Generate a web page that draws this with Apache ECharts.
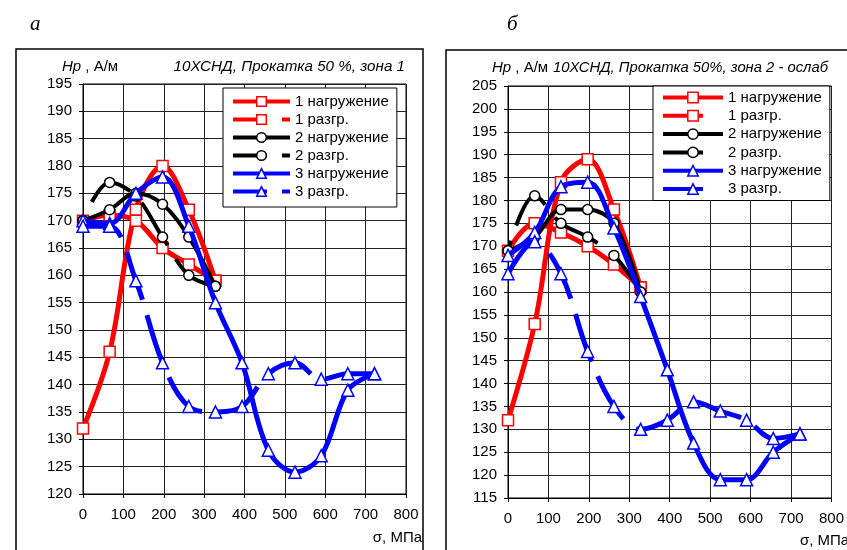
<!DOCTYPE html>
<html>
<head>
<meta charset="utf-8">
<title>Hp(σ) 10ХСНД</title>
<script src="https://cdn.jsdelivr.net/npm/echarts@6/dist/echarts.min.js"></script>
<style>
  html, body { margin: 0; padding: 0; background: #fff; }
  #chart { width: 847px; height: 550px; }
</style>
</head>
<body>
<div id="chart"></div>
<script>
// Stress levels, MPa (shared by every series)
const stress = [0, 66, 131, 197, 262, 328, 394, 459, 525, 590, 656, 722];

// Panel "а" — zone 1, Hp in A/m (values listed in order of increasing stress)
const aLoad1   = [132, 146, 172, 180, 172, 159];
const aUnload1 = [170, 171, 170, 165, 162, 159];
const aLoad2   = [170, 172, 175, 173, 167, 158];
const aUnload2 = [170, 177, 174.5, 167, 160, 158];
const aLoad3   = [170, 169.5, 175, 178, 169, 155, 144, 128, 124, 127, 139, 142];
const aUnload3 = [169, 169, 159, 144, 136, 135, 136, 142, 144, 141, 142, 142];

// Panel "б" — zone 2 (weakened)
const bLoad1   = [132, 153, 184, 189, 178, 161];
const bUnload1 = [169, 175, 173, 170, 166, 161];
const bLoad2   = [169, 172, 178, 178, 175, 160];
const bUnload2 = [169, 181, 175, 172, 168, 160];
const bLoad3   = [168, 173, 183, 184, 174, 159, 143, 127, 119, 119, 125, 129];
const bUnload3 = [164, 171, 164, 147, 135, 130, 132, 136, 134, 132, 128, 129];

// Axis ticks
const xTicks = { min: 0, max: 800, step: 100 };
const aTicks = { min: 120, max: 195, step: 5 };
const bTicks = { min: 115, max: 205, step: 5 };

const seriesNames = ['1 нагружение', '1 разгр.', '2 нагружение', '2 разгр.', '3 нагружение', '3 разгр.'];

const FONT = 'Liberation Sans, Arial, sans-serif';
const RED = '#ff0000', BLACK = '#000000', BLUE = '#0000ff';
const colors  = [RED, RED, BLACK, BLACK, BLUE, BLUE];
const symbols = ['rect', 'rect', 'circle', 'circle', 'triangle', 'triangle'];
const symSize = [11, 11, 10, 10, 12, 12];
const widths  = [5, 5, 4, 4, 5, 5];
const UNLOAD_DASH = [50, 16];

// loading curves run with stress, unloading curves run back from the top stress
function loadPairs(vals) { return vals.map((v, i) => [stress[i], v]); }
function unloadPairs(vals) { return vals.map((v, i) => [stress[i], v]).reverse(); }

function makeSeries(k, data, gi, dashed) {
  return {
    type: 'line',
    name: seriesNames[k],
    xAxisIndex: gi,
    yAxisIndex: gi,
    data: data,
    smooth: 0.35,
    symbol: symbols[k],
    symbolSize: symSize[k],
    showAllSymbol: true,
    lineStyle: { color: colors[k], width: widths[k], type: dashed ? UNLOAD_DASH : 'solid' },
    itemStyle: { color: '#fff', borderColor: colors[k], borderWidth: 1.5 },
    emphasis: { disabled: true },
    z: 2 + k
  };
}

function panelSeries(gi, sets) {
  return [
    makeSeries(0, loadPairs(sets[0]), gi, false),
    makeSeries(1, unloadPairs(sets[1]), gi, false),
    makeSeries(2, loadPairs(sets[2]), gi, false),
    makeSeries(3, unloadPairs(sets[3]), gi, true),
    makeSeries(4, loadPairs(sets[4]), gi, false),
    makeSeries(5, unloadPairs(sets[5]), gi, true)
  ];
}

function legendData(dash) {
  return seriesNames.map((n, k) => ({
    name: n,
    itemStyle: { color: '#fff', borderColor: colors[k], borderWidth: 1.5 },
    lineStyle: { color: colors[k], width: 4, type: k % 2 ? dash : 'solid' }
  }));
}

function xAxisFor(gi) {
  return {
    gridIndex: gi, type: 'value',
    min: xTicks.min, max: xTicks.max, interval: xTicks.step,
    axisLine: { onZero: false, lineStyle: { color: '#000', width: 1 } },
    axisTick: { length: 4, lineStyle: { color: '#000' } },
    axisLabel: { margin: 13, fontSize: 15, color: '#000', fontFamily: FONT },
    splitLine: { show: true, lineStyle: { color: '#222', width: 1 } }
  };
}

function yAxisFor(gi, t) {
  return {
    gridIndex: gi, type: 'value',
    min: t.min, max: t.max, interval: t.step,
    axisLine: { show: true, onZero: false, lineStyle: { color: '#000', width: 1 } },
    axisTick: { show: true, length: 4, lineStyle: { color: '#000' } },
    axisLabel: { margin: 11, fontSize: 15, color: '#000', fontFamily: FONT },
    splitLine: { show: true, lineStyle: { color: '#222', width: 1 } }
  };
}

function label(text, x, y, opts) {
  return {
    type: 'text', z: 100,
    style: Object.assign({
      text: text, x: x, y: y,
      fill: '#000', fontSize: 15, fontFamily: FONT,
      verticalAlign: 'middle', align: 'left'
    }, opts || {})
  };
}

const richHp = { i: { fontStyle: 'italic', fontSize: 15, fontFamily: FONT, fill: '#000' } };

const chart = echarts.init(document.getElementById('chart'), null, { renderer: 'canvas' });

chart.setOption({
  animation: false,
  backgroundColor: '#fff',
  grid: [
    { left: 83, top: 84, width: 323, height: 410, show: true, borderColor: '#000', borderWidth: 1 },
    { left: 508, top: 86, width: 328, height: 412, show: true, borderColor: '#000', borderWidth: 1 }
  ],
  xAxis: [xAxisFor(0), xAxisFor(1)],
  yAxis: [yAxisFor(0, aTicks), yAxisFor(1, bTicks)],
  legend: [
    {
      orient: 'vertical', left: 223, top: 88,
      padding: [6, 8, 8, 8], itemWidth: 57, itemHeight: 12, itemGap: 3,
      backgroundColor: '#fff', borderColor: '#000', borderWidth: 1,
      textStyle: { fontSize: 15, color: '#000', fontFamily: FONT },
      selectedMode: false,
      data: legendData([34, 15])
    },
    {
      orient: 'vertical', left: 653, top: 86,
      padding: [4, 8, 4, 8], itemWidth: 60, itemHeight: 13, itemGap: 3.3,
      backgroundColor: '#fff', borderColor: '#000', borderWidth: 1,
      textStyle: { fontSize: 15, color: '#000', fontFamily: FONT },
      selectedMode: false,
      data: legendData([40, 30])
    }
  ],
  series: [].concat(
    panelSeries(0, [aLoad1, aUnload1, aLoad2, aUnload2, aLoad3, aUnload3]),
    panelSeries(1, [bLoad1, bUnload1, bLoad2, bUnload2, bLoad3, bUnload3])
  ),
  graphic: [
    { type: 'rect', z: 0, shape: { x: 16, y: 49, width: 407, height: 530 },
      style: { fill: 'none', stroke: '#000', lineWidth: 1.5 } },
    { type: 'rect', z: 0, shape: { x: 446, y: 50, width: 420, height: 530 },
      style: { fill: 'none', stroke: '#000', lineWidth: 1.5 } },

    label('а', 30, 24, { fontSize: 21, fontStyle: 'italic', fontFamily: 'Liberation Serif, serif' }),
    label('б', 507, 24, { fontSize: 21, fontStyle: 'italic', fontFamily: 'Liberation Serif, serif' }),

    label('{i|Hp} , А/м', 62, 67, { rich: richHp }),
    label('10ХСНД, Прокатка 50 %, зона 1', 405, 67, { align: 'right', fontStyle: 'italic', fontSize: 15.2 }),
    label('σ, МПа', 422, 538, { align: 'right' }),

    label('{i|Hp} , А/м', 492, 68, { rich: richHp }),
    label('10ХСНД, Прокатка 50%, зона 2 - ослаб', 828, 68, { align: 'right', fontStyle: 'italic', fontSize: 14.8 }),
    label('σ, МПа', 800, 541, { align: 'left' })
  ]
});
</script>
</body>
</html>
